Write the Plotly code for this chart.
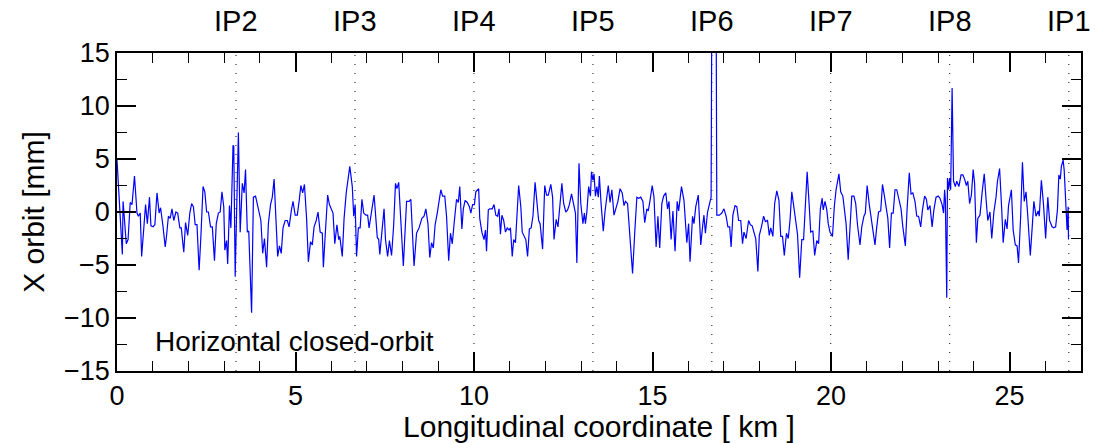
import plotly.graph_objects as go

# Interaction points around the ring (km) and their labels
ip_pos_km = [3.332, 6.665, 9.997, 13.33, 16.66, 19.99, 23.32, 26.659]
ip_names = ["IP2", "IP3", "IP4", "IP5", "IP6", "IP7", "IP8", "IP1"]

# Horizontal closed orbit: longitudinal position (km) and X offset (mm)
s_km = [
    0.00, 0.15, 0.17, 0.26, 0.31, 0.37, 0.42, 0.49, 0.56, 0.60, 0.65, 0.69, 0.76, 0.80, 0.85,
    0.91, 0.95, 1.01, 1.06, 1.12, 1.18, 1.22, 1.29, 1.35, 1.38, 1.44, 1.49, 1.54, 1.59, 1.65,
    1.70, 1.76, 1.80, 1.87, 1.92, 1.98, 2.04, 2.09, 2.14, 2.19, 2.24, 2.30, 2.35, 2.41, 2.46,
    2.51, 2.56, 2.62, 2.67, 2.73, 2.78, 2.84, 2.89, 2.94, 2.99, 3.02, 3.07, 3.10, 3.15, 3.19,
    3.25, 3.27, 3.31, 3.40, 3.45, 3.51, 3.56, 3.60, 3.65, 3.69, 3.77, 3.82, 3.88, 3.95, 4.03,
    4.08, 4.13, 4.19, 4.24, 4.30, 4.35, 4.40, 4.45, 4.50, 4.55, 4.60, 4.65, 4.71, 4.77, 4.82,
    4.89, 4.93, 4.99, 5.05, 5.10, 5.15, 5.20, 5.25, 5.31, 5.36, 5.42, 5.47, 5.52, 5.58, 5.63,
    5.69, 5.75, 5.78, 5.84, 5.90, 5.95, 5.99, 6.05, 6.10, 6.16, 6.21, 6.24, 6.31, 6.36, 6.42,
    6.48, 6.52, 6.59, 6.63, 6.67, 6.71, 6.76, 6.81, 6.86, 6.91, 6.97, 7.02, 7.06, 7.14, 7.20,
    7.25, 7.29, 7.33, 7.36, 7.48, 7.52, 7.58, 7.63, 7.69, 7.75, 7.80, 7.84, 7.89, 7.96, 8.02,
    8.11, 8.18, 8.23, 8.32, 8.39, 8.46, 8.54, 8.60, 8.65, 8.71, 8.76, 8.81, 8.86, 8.91, 8.97,
    9.03, 9.07, 9.12, 9.18, 9.23, 9.29, 9.34, 9.39, 9.45, 9.51, 9.56, 9.60, 9.66, 9.70, 9.75,
    9.81, 9.87, 9.91, 9.96, 10.01, 10.05, 10.13, 10.16, 10.22, 10.28, 10.32, 10.35, 10.40, 10.44, 10.51,
    10.56, 10.61, 10.66, 10.70, 10.74, 10.78, 10.83, 10.88, 10.93, 10.98, 11.02, 11.07, 11.11, 11.16, 11.25,
    11.31, 11.35, 11.39, 11.45, 11.50, 11.55, 11.60, 11.65, 11.71, 11.76, 11.81, 11.85, 11.92, 11.98, 12.03,
    12.08, 12.15, 12.20, 12.24, 12.30, 12.35, 12.41, 12.46, 12.51, 12.57, 12.62, 12.67, 12.73, 12.77, 12.84,
    12.88, 12.94, 12.99, 13.05, 13.09, 13.12, 13.16, 13.21, 13.26, 13.29, 13.33, 13.36, 13.40, 13.44, 13.48,
    13.51, 13.56, 13.62, 13.67, 13.71, 13.76, 13.81, 13.86, 13.92, 13.98, 14.03, 14.09, 14.15, 14.20, 14.24,
    14.30, 14.37, 14.44, 14.50, 14.56, 14.61, 14.67, 14.73, 14.78, 14.84, 14.88, 14.93, 14.99, 15.04, 15.10,
    15.15, 15.20, 15.26, 15.31, 15.37, 15.42, 15.46, 15.52, 15.57, 15.63, 15.69, 15.73, 15.81, 15.88, 15.96,
    16.01, 16.05, 16.12, 16.16, 16.21, 16.28, 16.35, 16.41, 16.44, 16.48, 16.54, 16.59, 16.64, 16.66, 16.78,
    16.80, 16.87, 16.94, 17.00, 17.06, 17.11, 17.16, 17.20, 17.25, 17.31, 17.36, 17.41, 17.47, 17.52, 17.56,
    17.62, 17.69, 17.74, 17.79, 17.84, 17.89, 17.95, 17.99, 18.05, 18.11, 18.16, 18.22, 18.27, 18.31, 18.37,
    18.42, 18.48, 18.54, 18.59, 18.64, 18.69, 18.75, 18.80, 18.85, 18.90, 18.96, 19.00, 19.06, 19.12, 19.18,
    19.23, 19.27, 19.33, 19.39, 19.43, 19.49, 19.54, 19.60, 19.65, 19.70, 19.75, 19.78, 19.83, 19.88, 19.92,
    19.97, 20.04, 20.09, 20.14, 20.22, 20.27, 20.33, 20.38, 20.42, 20.48, 20.53, 20.58, 20.64, 20.69, 20.74,
    20.81, 20.86, 20.92, 20.96, 21.01, 21.07, 21.11, 21.17, 21.23, 21.28, 21.33, 21.39, 21.44, 21.49, 21.54,
    21.59, 21.64, 21.69, 21.74, 21.79, 21.84, 21.90, 21.96, 22.01, 22.08, 22.13, 22.19, 22.24, 22.29, 22.35,
    22.40, 22.45, 22.51, 22.56, 22.62, 22.67, 22.71, 22.77, 22.83, 22.88, 22.94, 23.00, 23.05, 23.11, 23.15,
    23.18, 23.20, 23.24, 23.26, 23.29, 23.32, 23.35, 23.39, 23.43, 23.48, 23.52, 23.58, 23.64, 23.69, 23.74,
    23.79, 23.83, 23.88, 23.93, 23.98, 24.02, 24.07, 24.11, 24.17, 24.23, 24.29, 24.35, 24.39, 24.45, 24.50,
    24.56, 24.62, 24.66, 24.72, 24.78, 24.82, 24.88, 24.93, 24.97, 25.05, 25.10, 25.16, 25.21, 25.25, 25.31,
    25.36, 25.41, 25.46, 25.51, 25.58, 25.64, 25.68, 25.74, 25.80, 25.83, 25.89, 25.95, 26.01, 26.07, 26.12,
    26.19, 26.23, 26.29, 26.34, 26.38, 26.42, 26.45, 26.50, 26.53, 26.58, 26.61, 26.64, 26.65,
]
x_mm = [
    4.9, -4.0, 1.0, -3.0, -2.6, 0.9, 0.7, 3.4, -0.1, -0.4, -0.1, -4.2, -1.1, 0.7, -1.1,
    1.4, -1.3, -1.4, -1.2, 1.8, -0.1, 0.4, -1.4, -3.3, -2.5, -0.4, -0.6, 0.3, -0.8, 0.0,
    -0.1, -1.5, -1.5, -3.8, -1.0, -2.2, -0.1, 0.8, 0.5, -1.2, -1.2, -5.5, -2.3, 2.4, 1.9,
    0.0, 0.0, -1.4, -1.4, -4.6, -1.1, -0.1, 0.0, 1.9, 0.5, -3.6, -2.7, -4.9, 0.6, -1.5,
    6.3, 6.2, -6.1, 7.5, -1.9, 2.7, 1.8, 4.0, -1.9, -1.8, -9.5, 1.4, 1.5, 0.3, -0.8,
    -3.9, -2.5, -5.2, -1.1, 0.7, 1.4, 3.1, -1.1, -4.2, -3.2, -3.9, -1.5, -0.8, -0.8, -1.4,
    0.3, 1.0, -0.3, -0.3, 1.0, 2.5, 1.8, 2.6, -0.6, -4.7, -2.8, -3.1, -1.4, -0.8, 0.0,
    -1.9, -2.0, -5.2, -1.7, 1.6, 0.7, 0.3, -0.1, -3.0, -1.2, -2.6, -2.3, -4.2, -0.6, 1.8,
    3.2, 4.3, 2.4, -0.4, 0.7, -4.2, -1.5, -1.5, 1.2, -0.1, -0.3, -0.3, -1.5, 0.5, 1.6,
    -0.6, -2.4, -2.6, -4.0, 0.3, -2.6, -4.2, -2.7, -4.1, -1.2, 2.7, 2.2, 2.8, -1.4, -5.1,
    1.0, 1.0, 1.2, -5.1, -2.0, -1.5, -0.6, -0.4, 0.3, -1.1, -4.3, -2.9, -3.4, -1.2, -0.1,
    1.1, 2.1, 1.5, 1.5, -0.4, -4.6, -2.0, -3.0, -0.8, 1.2, 0.9, 2.4, -1.6, 0.3, 1.1,
    0.9, 0.5, -0.1, 0.7, 0.7, 1.9, 2.2, -0.6, -1.9, -2.6, -1.7, -3.7, 0.2, 0.3, 0.3,
    0.7, -0.3, -0.4, 0.3, -2.1, -0.3, -0.8, -1.9, -1.5, -1.7, -1.5, -4.2, -2.6, -2.9, 2.5,
    0.5, -1.9, -2.2, -2.6, -4.2, -1.6, -1.5, -0.4, 2.8, 1.3, -0.8, -1.1, -3.5, 2.5, 1.6,
    1.6, 2.6, 1.4, -2.6, -0.7, -1.4, 0.8, 2.7, 0.8, 0.0, 0.2, 0.7, 1.7, 0.9, -0.1,
    -4.8, 4.6, 0.8, -1.1, -0.1, -1.1, 0.0, 2.4, 1.5, 3.8, 3.0, 3.6, 1.5, 2.4, 1.4,
    3.4, 0.7, -1.8, 0.1, 1.0, 2.5, 0.9, 2.1, -0.3, 0.5, 1.0, 2.2, 1.8, 0.6, 1.0,
    0.8, -2.3, -5.8, -2.0, 1.4, 1.3, 1.4, 1.0, -1.0, 0.3, 0.1, 1.1, 2.5, 1.4, -3.3,
    -0.4, -3.4, 0.8, 1.5, 1.8, 0.3, 1.0, -2.6, 0.1, -3.7, 1.0, 0.1, 2.4, 1.1, -2.9,
    -1.1, -4.7, -0.4, -1.1, 0.5, 1.6, -3.1, -1.1, -0.3, -2.0, 0.0, 0.7, 1.4, 20.0, 20.0,
    -0.3, -0.3, -0.1, 0.3, -0.4, -1.4, -1.4, -3.3, -0.3, 0.6, 0.5, -0.8, -0.8, -3.0, -1.9,
    -2.5, -0.8, -1.2, -1.3, -1.9, -2.5, -5.6, -2.2, -1.4, -0.4, -0.9, -0.8, -2.2, -1.5, -2.3,
    0.8, 2.0, 1.1, -2.3, -2.3, -4.1, -2.0, -2.5, -0.8, 1.9, 0.3, -0.9, -2.1, -6.2, -2.6,
    -2.6, 0.5, 3.8, 0.5, -1.9, -1.8, -4.1, -2.7, -3.0, 0.3, 1.3, 0.2, 1.0, 0.2, -1.1,
    -1.9, -2.3, 0.5, 2.1, 3.6, 1.9, 1.5, 0.2, -1.1, -4.5, -1.7, 1.5, 1.5, 0.8, -1.2,
    -3.1, -1.4, -0.4, -0.1, 2.5, 0.7, -0.3, -1.4, -3.1, -1.4, 0.0, 0.1, 2.6, 1.6, 0.5,
    -0.6, -3.4, -0.1, -0.1, 2.1, 2.1, 1.2, 0.3, -1.4, -3.2, 0.3, 3.7, 1.7, 1.8, 1.0,
    -0.4, -0.4, -1.4, 0.2, 1.5, 1.2, 0.2, 0.6, -1.4, 0.2, 1.4, 1.5, 1.3, 0.7, -0.1,
    2.1, 1.2, -8.1, 3.2, 2.1, 3.2, 2.1, 11.7, 2.9, 2.4, 2.9, 2.4, 3.5, 3.5, 3.1,
    2.5, 2.9, 0.8, 1.6, 4.0, 2.7, -2.9, -0.6, -0.3, 1.8, 3.6, 0.8, -0.8, 0.0, -2.5,
    0.0, 1.4, 2.9, 4.1, 0.2, -2.9, -0.7, -1.6, 0.6, 2.1, -1.7, -3.1, -3.2, -4.8, -0.4,
    4.7, 1.0, 1.9, -0.4, -4.1, -1.1, 1.0, -0.4, 0.1, -0.4, 3.0, 0.7, -2.5, 1.4, -0.8,
    -1.4, -1.5, -1.4, 0.2, 3.5, 3.1, 4.3, 4.9, 3.9, 0.2, -1.7, 0.5, -2.6,
]

ink = "#000000"
font_family = "Liberation Sans, Arial, Helvetica, sans-serif"

fig = go.Figure()
fig.add_trace(go.Scatter(
    x=s_km, y=x_mm, mode="lines",
    line=dict(color="#0000ff", width=1.2),
    showlegend=False, hoverinfo="skip",
))

# Dotted vertical markers and labels at the interaction points
for pos, name in zip(ip_pos_km, ip_names):
    fig.add_shape(
        type="line", xref="x", yref="paper", x0=pos, x1=pos, y0=0, y1=1,
        line=dict(color="#333333", width=1.2, dash="1px,8px"), layer="below",
    )
    fig.add_annotation(
        x=pos, xref="x", y=1.0, yref="paper", yshift=32, text=name,
        showarrow=False, xanchor="center", yanchor="middle",
        font=dict(family=font_family, size=29, color=ink),
    )

fig.add_annotation(
    x=1.0, xref="x", y=-12.2, yref="y", text="Horizontal closed-orbit",
    showarrow=False, xanchor="left", yanchor="middle",
    font=dict(family=font_family, size=28, color=ink),
)

axis_common = dict(
    showline=True, linecolor=ink, linewidth=1.8, mirror="allticks",
    ticks="inside", ticklen=19, tickwidth=1.6, tickcolor=ink,
    showgrid=False, zeroline=False,
    tickfont=dict(family=font_family, size=27, color=ink),
)

fig.update_xaxes(
    range=[0, 27], tickvals=[0, 5, 10, 15, 20, 25],
    minor=dict(dtick=1, tick0=0, ticks="inside", ticklen=10, tickwidth=1.2, tickcolor=ink, showgrid=False),
    title=dict(text="Longitudinal coordinate [ km ]", standoff=4,
               font=dict(family=font_family, size=30, color=ink)),
    **axis_common,
)
fig.update_yaxes(
    range=[-15, 15], tickvals=[-15, -10, -5, 0, 5, 10, 15],
    minor=dict(dtick=2.5, tick0=0, ticks="inside", ticklen=10, tickwidth=1.2, tickcolor=ink, showgrid=False),
    title=dict(text="X orbit [mm]", standoff=10,
               font=dict(family=font_family, size=30, color=ink)),
    **axis_common,
)

fig.update_layout(
    width=1110, height=443,
    margin=dict(l=117, r=29, t=53, b=72, autoexpand=False),
    paper_bgcolor="white", plot_bgcolor="white",
    font=dict(family=font_family, color=ink),
)

fig.write_html("out.html")
